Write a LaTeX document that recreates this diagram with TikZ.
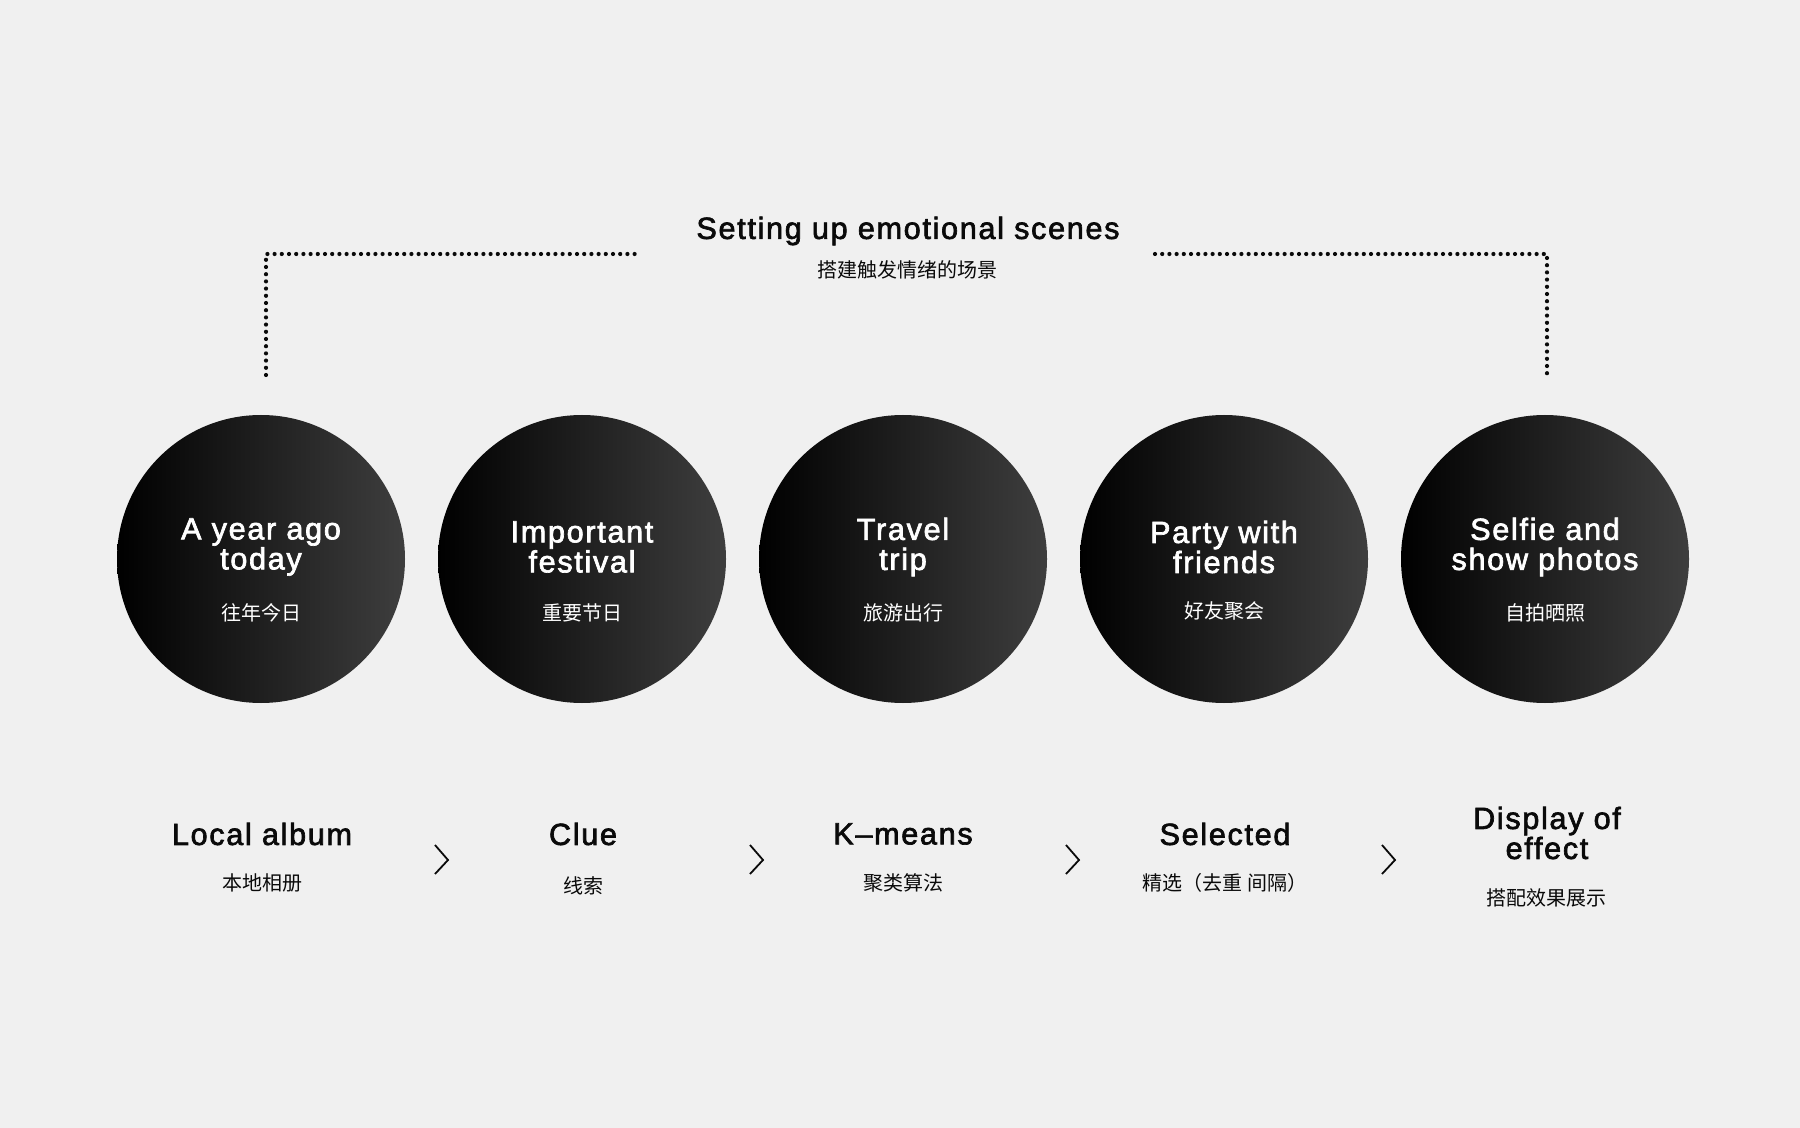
\documentclass[tikz,border=0pt]{standalone}
\usepackage{fontspec}
\setmainfont{Liberation Sans}
\newfontfamily\en{Liberation Sans}[LetterSpace=5.5, FakeBold=2.2]
\newfontfamily\cjk{Noto Sans CJK SC}
\usetikzlibrary{calc}
\definecolor{bg}{RGB}{240,240,240}
\definecolor{cright}{RGB}{62,62,62}
\definecolor{ink}{RGB}{10,10,10}
\begin{document}
\begin{tikzpicture}[x=0.5pt,y=-0.5pt,
  bubble/.style={circle, minimum size=144pt, inner sep=0pt, draw=none, left color=black, right color=cright},
  intitle/.style={font=\en\fontsize{15.3}{15}\selectfont, text=white, align=center, inner sep=0pt},
  insub/.style={font=\cjk\fontsize{10}{12}\selectfont, text=white, inner sep=0pt},
  headtitle/.style={font=\en\fontsize{15.3}{16}\selectfont, text=ink, inner sep=0pt},
  labtitle/.style={font=\en\fontsize{15.3}{15}\selectfont, text=ink, align=center, inner sep=0pt},
  labsub/.style={font=\cjk\fontsize{10}{12}\selectfont, text=ink, inner sep=0pt},
  dots/.style={ink, line width=2.1pt, line cap=round, dash pattern=on 0pt off 3.6pt},
  chev/.style={ink, line width=0.9pt, line join=miter}
]
\fill[bg] (0,0) rectangle (1800,1128);
\useasboundingbox (0,0) rectangle (1800,1128);

% title
\node[headtitle] (title) at (908,231) {Setting up emotional scenes};
\node[labsub] (titlesub) at (907,270) {搭建触发情绪的场景};

% circles
\node[bubble] (c1) at (261,559) {};
\node[bubble] (c2) at (582,559) {};
\node[bubble] (c3) at (903,559) {};
\node[bubble] (c4) at (1224,559) {};
\node[bubble] (c5) at (1545,559) {};

\node[intitle] (c1t) at (261,547) {A year ago\\today};
\node[insub] (c1s) at (261,613) {往年今日};
\node[intitle] (c2t) at (582,547) {Important\\festival};
\node[insub] (c2s) at (582,613) {重要节日};
\node[intitle] (c3t) at (903,547) {Travel\\trip};
\node[insub] (c3s) at (903,613) {旅游出行};
\node[intitle] (c4t) at (1224,547) {Party with\\friends};
\node[insub] (c4s) at (1224,611) {好友聚会};
\node[intitle] (c5t) at (1545,547) {Selfie and\\show photos};
\node[insub] (c5s) at (1545,613) {自拍晒照};

% dotted bracket
\coordinate (dl) at (266,375);
\coordinate (dr) at (1547,375);
\draw[dots] (dl) -- (266,254) -- (639,254);
\draw[dots] (1155,254) -- (1547,254) -- (dr);

% bottom labels
\node[labtitle] (l1) at (262,834) {Local album};
\node[labsub] (l1s) at (262,883) {本地相册};
\node[labtitle] (l2) at (583,834) {Clue};
\node[labsub] (l2s) at (583,886) {线索};
\node[labtitle] (l3) at (903,834) {K–means};
\node[labsub] (l3s) at (903,883) {聚类算法};
\node[labtitle] (l4) at (1225,834) {Selected};
\node[labsub] (l4s) at (1225,883) {精选（去重 间隔）};
\node[labtitle] (l5) at (1547,833) {Display of\\effect};
\node[labsub] (l5s) at (1546,898) {搭配效果展示};

% chevrons
\foreach \cx in {435,750,1066,1382}{
  \draw[chev] (\cx,845) -- (\cx+13,860) -- (\cx,874);
}
\end{tikzpicture}
\end{document}
